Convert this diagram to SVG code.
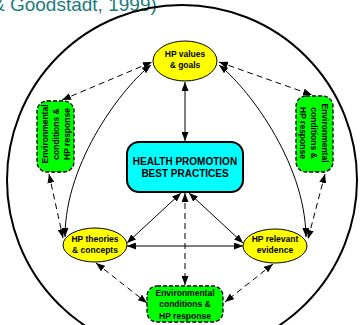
<svg xmlns="http://www.w3.org/2000/svg" width="361" height="325" viewBox="0 0 361 325">
  <defs>
    <marker id="arrow" markerUnits="userSpaceOnUse" markerWidth="9" markerHeight="7" viewBox="0 0 9 7" refX="9" refY="3.5" orient="auto-start-reverse">
      <path d="M0,0 L9,3.5 L0,7 z" fill="#000"/>
    </marker>
    <style>
      .lbl { font-family: "Liberation Sans", Arial, sans-serif; font-weight: bold; font-size: 8.5px; fill: #000; text-anchor: middle; }
      .title { font-family: "Liberation Sans", Arial, sans-serif; font-weight: bold; font-size: 10px; fill: #000; text-anchor: middle; }
      .oval { fill: #ffff00; stroke: #000; stroke-width: 1; }
      .env { fill: #00ff00; stroke: #000; stroke-width: 1.3; stroke-dasharray: 4 2; }
      .solid { fill: none; stroke: #000; stroke-width: 1; marker-start: url(#arrow); marker-end: url(#arrow); }
      .dash { fill: none; stroke: #000; stroke-width: 1; stroke-dasharray: 6 4; marker-start: url(#arrow); marker-end: url(#arrow); }
    </style>
  </defs>

  <rect width="361" height="325" fill="#fff"/>

  <!-- citation (cut by the frame) -->
  <text x="-8" y="11" font-family="Liberation Sans, Arial, sans-serif" font-size="19" fill="#1a7b7b">&amp; Goodstadt, 1999)</text>

  <!-- outer boundary -->
  <circle cx="182" cy="180" r="175" fill="none" stroke="#000" stroke-width="2"/>

  <g id="connectors">
    <!-- solid links -->
    <line class="solid" x1="185" y1="82" x2="185" y2="141"/>
    <line class="solid" x1="181" y1="193" x2="127" y2="243"/>
    <line class="solid" x1="189" y1="193" x2="243" y2="243"/>
    <line class="solid" x1="127" y1="246" x2="243" y2="246"/>
    <path class="solid" d="M151,65 C125,85 65,160 65,237"/>
    <path class="solid" d="M219,65 C245,85 305,160 306,237"/>
    <!-- dashed links -->
    <line class="dash" x1="62" y1="100" x2="152" y2="62"/>
    <line class="dash" x1="219" y1="62" x2="312" y2="95"/>
    <line class="dash" x1="49" y1="174" x2="63" y2="238"/>
    <line class="dash" x1="325" y1="174" x2="308" y2="239"/>
    <line class="dash" x1="96" y1="263" x2="147" y2="303"/>
    <line class="dash" x1="273" y1="264" x2="225" y2="302"/>
    <line class="dash" x1="185" y1="193" x2="185" y2="285" stroke="#444" stroke-width="1.6" stroke-dasharray="8 5"/>
  </g>

  <g id="values">
    <ellipse class="oval" cx="185" cy="61" rx="32" ry="20"/>
    <text class="lbl" x="185" y="57">HP values</text>
    <text class="lbl" x="185" y="68">&amp; goals</text>
  </g>

  <g id="best-practices">
    <rect x="127" y="142" width="116" height="50" rx="12" fill="#00ffff" stroke="#000" stroke-width="2"/>
    <text class="title" x="185" y="165">HEALTH PROMOTION</text>
    <text class="title" x="185" y="177">BEST PRACTICES</text>
  </g>

  <g id="theories">
    <ellipse class="oval" cx="95" cy="245" rx="32" ry="17"/>
    <text class="lbl" x="95" y="242">HP theories</text>
    <text class="lbl" x="95" y="253">&amp; concepts</text>
  </g>

  <g id="evidence">
    <ellipse class="oval" cx="275" cy="246" rx="32" ry="17"/>
    <text class="lbl" x="275" y="242">HP relevant</text>
    <text class="lbl" x="275" y="253">evidence</text>
  </g>

  <g id="env-left">
    <rect class="env" x="37" y="101" width="37" height="71" rx="10"/>
    <g transform="translate(55.5,134) rotate(-90)">
      <text class="lbl" x="0" y="-7.5">Environmental</text>
      <text class="lbl" x="0" y="3.5">conditions &amp;</text>
      <text class="lbl" x="0" y="14.5">HP response</text>
    </g>
  </g>

  <g id="env-right">
    <rect class="env" x="296" y="96" width="37" height="76" rx="10"/>
    <g transform="translate(314.5,133) rotate(90)">
      <text class="lbl" x="0" y="-7.5">Environmental</text>
      <text class="lbl" x="0" y="3.5">conditions &amp;</text>
      <text class="lbl" x="0" y="14.5">HP response</text>
    </g>
  </g>

  <g id="env-bottom">
    <rect class="env" x="147" y="286" width="76" height="36" rx="10"/>
    <text class="lbl" x="185" y="295.5">Environmental</text>
    <text class="lbl" x="185" y="307">conditions &amp;</text>
    <text class="lbl" x="185" y="318.5">HP response</text>
  </g>
</svg>
